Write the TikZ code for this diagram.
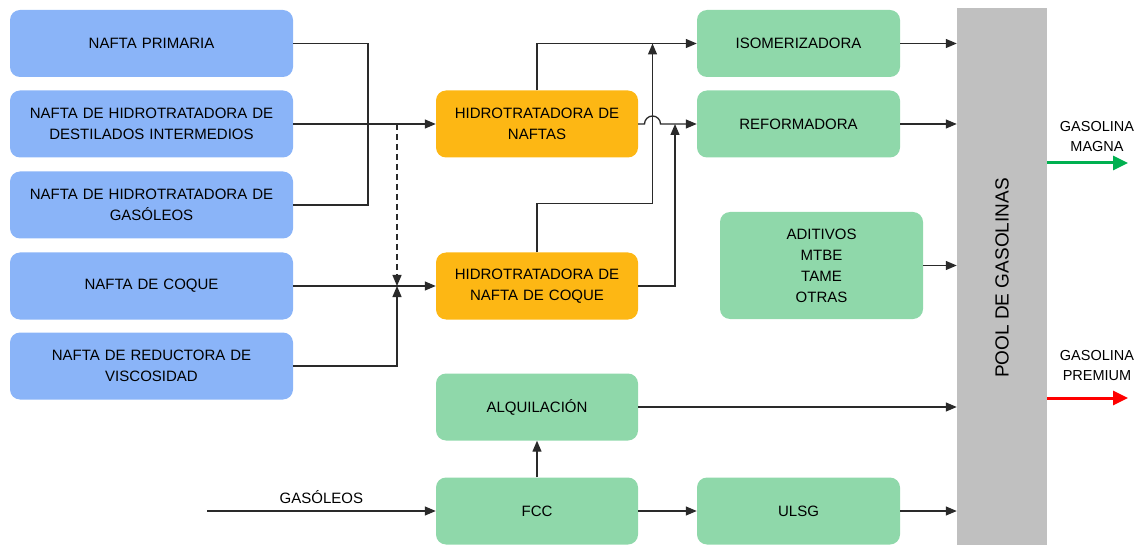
\documentclass[tikz,border=0pt]{standalone}
\usepackage{fontspec}
\setmainfont{Liberation Sans}
\usetikzlibrary{arrows.meta}

\definecolor{feedblue}{HTML}{8AB4F8}
\definecolor{unitorange}{HTML}{FDB714}
\definecolor{unitgreen}{HTML}{8FD8AA}
\definecolor{poolgray}{HTML}{C0C0C0}
\definecolor{linegray}{HTML}{2A2A2A}
\definecolor{magnagreen}{HTML}{00B050}
\definecolor{premiumred}{HTML}{FF0000}

\tikzset{
  box/.style={rounded corners=10pt, minimum height=67pt, inner sep=2pt,
    align=center, font=\fontsize{15}{21}\selectfont, text=black},
  feed/.style={box, fill=feedblue, minimum width=283pt, text width=270pt},
  hdt/.style={box, fill=unitorange, minimum width=202pt, text width=195pt},
  unit/.style={box, fill=unitgreen, minimum width=203pt, text width=195pt},
  flow/.style={draw=linegray, line width=1.3pt,
    -{Triangle[length=11pt,width=9pt]}},
  plain/.style={draw=linegray, line width=1.3pt},
  product/.style={line width=3pt, -{Triangle[length=15pt,width=14pt]}},
  prodlabel/.style={align=center, font=\fontsize{14.5}{19.5}\selectfont, text=black}
}

\begin{document}
\begin{tikzpicture}[x=1pt,y=-1pt]
\useasboundingbox (0,0) rectangle (1140,545);

% feed naphthas
\node[feed] (b1) at (151.5,43.5) {NAFTA PRIMARIA};
\node[feed] (b2) at (151.5,124) {NAFTA DE HIDROTRATADORA DE\\DESTILADOS INTERMEDIOS};
\node[feed] (b3) at (151.5,205) {NAFTA DE HIDROTRATADORA DE\\GASÓLEOS};
\node[feed] (b4) at (151.5,286) {NAFTA DE COQUE};
\node[feed] (b5) at (151.5,366) {NAFTA DE REDUCTORA DE\\VISCOSIDAD};

% hydrotreaters
\node[hdt] (h1) at (537,124) {HIDROTRATADORA DE\\NAFTAS};
\node[hdt] (h2) at (537,286) {HIDROTRATADORA DE\\NAFTA DE COQUE};

% process units
\node[unit] (iso) at (798.5,43.5) {ISOMERIZADORA};
\node[unit] (ref) at (798.5,124) {REFORMADORA};
\node[unit, minimum height=107pt] (adi) at (821.5,265.5) {ADITIVOS\\MTBE\\TAME\\OTRAS};
\node[unit, minimum width=202pt] (alq) at (537,407) {ALQUILACIÓN};
\node[unit, minimum width=202pt] (fcc) at (537,511) {FCC};
\node[unit] (ulsg) at (798.5,511) {ULSG};

% gasoline pool
\node[fill=poolgray, minimum width=90pt, minimum height=540pt, inner sep=0pt]
  (pool) at (1002,278) {};
\node[rotate=90, font=\fontsize{19}{22}\selectfont, text=black] (pooltxt)
  at (pool.center) {POOL DE GASOLINAS};

% helper points
\coordinate (mx) at (368,124);
\coordinate (dtop) at (397,124);
\coordinate (dj) at (397,286);
\coordinate (up1) at (652.5,43.5);
\coordinate (up2) at (675,124);
\coordinate (gin) at (207,511);
\coordinate (mg) at (1128,163);
\coordinate (pr) at (1128,398);

% feeds to hydrotreaters
\draw[plain] (b1.east) -| (mx) |- (b3.east);
\draw[flow] (b2.east) -- (h1.west);
\draw[flow, dashed, dash pattern=on 6pt off 4pt] (dtop) -- (dj);
\draw[flow] (b4.east) -- (h2.west);
\draw[flow] (b5.east) -| (dj);

% hydrotreaters to isomerization and reforming
\draw[flow] (h1.north) |- (iso.west);
\draw[flow] (h2.north) -- ++(0,-49) -| (up1);
\draw[flow] (h1.east) -- ([xshift=-8pt]up1 |- h1.east) arc[start angle=180, end angle=0, radius=8pt] -- (ref.west);
\draw[flow] (h2.east) -| (up2);

% units to pool
\draw[flow] (iso.east) -- (iso.east -| pool.west);
\draw[flow] (ref.east) -- (ref.east -| pool.west);
\draw[flow] (adi.east) -- (adi.east -| pool.west);
\draw[flow] (alq.east) -- (alq.east -| pool.west);
\draw[flow] (ulsg.east) -- (ulsg.east -| pool.west);

% FCC
\draw[flow] (fcc.north) -- (alq.south);
\draw[flow] (gin) -- node[above=3pt, font=\fontsize{15}{18}\selectfont, text=black] (gl) {GASÓLEOS} (fcc.west);
\draw[flow] (fcc.east) -- (ulsg.west);

% products
\draw[product, magnagreen] (mg -| pool.east) -- (mg);
\node[prodlabel] (magna) at (1097,136.5) {GASOLINA\\MAGNA};
\draw[product, premiumred] (pr -| pool.east) -- (pr);
\node[prodlabel] (premium) at (1097,365.5) {GASOLINA\\PREMIUM};
\end{tikzpicture}
\end{document}
